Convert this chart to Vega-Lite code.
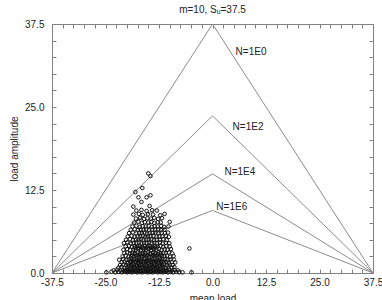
{
  "$schema": "https://vega.github.io/schema/vega-lite/v6.json",
  "width": 321,
  "height": 249,
  "autosize": "none",
  "padding": {"left": 52, "top": 24, "right": 9, "bottom": 27},
  "background": "white",
  "title": {"text": "m=10, Sᵤ=37.5", "fontSize": 10, "fontWeight": "normal", "font": "Liberation Sans", "color": "#222", "offset": 4, "anchor": "middle"},
  "config": {
    "view": {"stroke": "#808080", "strokeWidth": 1},
    "axis": {
      "grid": false, "domain": true, "domainColor": "#808080", "domainWidth": 1,
      "ticks": true, "tickColor": "#808080", "tickWidth": 1, "tickSize": -4,
      "labelFont": "Liberation Sans", "labelFontSize": 10, "labelColor": "#222",
      "labelFlush": false, "labelOverlap": false, "labelBound": false,
      "titleFont": "Liberation Sans", "titleFontSize": 10, "titleFontWeight": "normal", "titleColor": "#222"
    }
  },
  "datasets": {
    "curves": [
      {"life": "1E0", "mean": -37.5, "amp": 0}, {"life": "1E0", "mean": 0, "amp": 37.5}, {"life": "1E0", "mean": 37.5, "amp": 0},
      {"life": "1E2", "mean": -37.5, "amp": 0}, {"life": "1E2", "mean": 0, "amp": 23.66}, {"life": "1E2", "mean": 37.5, "amp": 0},
      {"life": "1E4", "mean": -37.5, "amp": 0}, {"life": "1E4", "mean": 0, "amp": 14.93}, {"life": "1E4", "mean": 37.5, "amp": 0},
      {"life": "1E6", "mean": -37.5, "amp": 0}, {"life": "1E6", "mean": 0, "amp": 9.42}, {"life": "1E6", "mean": 37.5, "amp": 0}
    ],
    "tags": [
      {"label": "N=1E0", "mean": 5.4, "amp": 33.3},
      {"label": "N=1E2", "mean": 4.7, "amp": 22.0},
      {"label": "N=1E4", "mean": 2.8, "amp": 15.2},
      {"label": "N=1E6", "mean": 0.9, "amp": 9.9}
    ],
    "tests": [
      {"m": -24.8, "a": 0.1}, {"m": -23.6, "a": 0.2}, {"m": -22.7, "a": 0.1}, {"m": -21.9, "a": 0.15}, {"m": -21.2, "a": 0.1}, {"m": -20.6, "a": 0.2}, {"m": -20.0, "a": 0.1}, {"m": -19.4, "a": 0.15}, {"m": -18.8, "a": 0.1}, {"m": -18.2, "a": 0.2},
      {"m": -17.6, "a": 0.1}, {"m": -17.0, "a": 0.15}, {"m": -16.4, "a": 0.1}, {"m": -15.8, "a": 0.2}, {"m": -15.2, "a": 0.1}, {"m": -14.6, "a": 0.15}, {"m": -14.0, "a": 0.1}, {"m": -13.4, "a": 0.2}, {"m": -12.8, "a": 0.1}, {"m": -12.2, "a": 0.15},
      {"m": -11.6, "a": 0.1}, {"m": -11.0, "a": 0.2}, {"m": -10.4, "a": 0.1}, {"m": -9.8, "a": 0.15}, {"m": -9.2, "a": 0.1}, {"m": -8.5, "a": 0.2}, {"m": -7.8, "a": 0.1}, {"m": -7.0, "a": 0.1}, {"m": -4.9, "a": 0.1},
      {"m": -23.1, "a": 0.4}, {"m": -22.3, "a": 0.5}, {"m": -21.5, "a": 0.35}, {"m": -20.9, "a": 0.45}, {"m": -20.3, "a": 0.4}, {"m": -19.7, "a": 0.5}, {"m": -19.1, "a": 0.35}, {"m": -18.5, "a": 0.45}, {"m": -17.9, "a": 0.4}, {"m": -17.3, "a": 0.5},
      {"m": -16.7, "a": 0.35}, {"m": -16.1, "a": 0.45}, {"m": -15.5, "a": 0.4}, {"m": -14.9, "a": 0.5}, {"m": -14.3, "a": 0.35}, {"m": -13.7, "a": 0.45}, {"m": -13.1, "a": 0.4}, {"m": -12.5, "a": 0.5}, {"m": -11.9, "a": 0.35}, {"m": -11.3, "a": 0.45},
      {"m": -10.7, "a": 0.4}, {"m": -10.1, "a": 0.5}, {"m": -9.5, "a": 0.35}, {"m": -8.8, "a": 0.45}, {"m": -8.1, "a": 0.4},
      {"m": -22.0, "a": 0.8}, {"m": -21.3, "a": 0.9}, {"m": -20.6, "a": 0.75}, {"m": -19.9, "a": 0.85}, {"m": -19.3, "a": 0.8}, {"m": -18.7, "a": 0.9}, {"m": -18.1, "a": 0.75}, {"m": -17.5, "a": 0.85}, {"m": -16.9, "a": 0.8}, {"m": -16.3, "a": 0.9},
      {"m": -15.7, "a": 0.75}, {"m": -15.1, "a": 0.85}, {"m": -14.5, "a": 0.8}, {"m": -13.9, "a": 0.9}, {"m": -13.3, "a": 0.75}, {"m": -12.7, "a": 0.85}, {"m": -12.1, "a": 0.8}, {"m": -11.5, "a": 0.9}, {"m": -10.9, "a": 0.75}, {"m": -10.3, "a": 0.85},
      {"m": -9.6, "a": 0.8}, {"m": -8.9, "a": 0.9},
      {"m": -21.6, "a": 1.2}, {"m": -20.8, "a": 1.3}, {"m": -20.2, "a": 1.15}, {"m": -19.6, "a": 1.25}, {"m": -19.0, "a": 1.2}, {"m": -18.4, "a": 1.3}, {"m": -17.8, "a": 1.15}, {"m": -17.2, "a": 1.25}, {"m": -16.6, "a": 1.2}, {"m": -16.0, "a": 1.3},
      {"m": -15.4, "a": 1.15}, {"m": -14.8, "a": 1.25}, {"m": -14.2, "a": 1.2}, {"m": -13.6, "a": 1.3}, {"m": -13.0, "a": 1.15}, {"m": -12.4, "a": 1.25}, {"m": -11.8, "a": 1.2}, {"m": -11.2, "a": 1.3}, {"m": -10.6, "a": 1.15}, {"m": -10.0, "a": 1.25},
      {"m": -9.3, "a": 1.2},
      {"m": -21.2, "a": 1.6}, {"m": -20.5, "a": 1.7}, {"m": -19.8, "a": 1.55}, {"m": -19.2, "a": 1.65}, {"m": -18.6, "a": 1.6}, {"m": -18.0, "a": 1.7}, {"m": -17.4, "a": 1.55}, {"m": -16.8, "a": 1.65}, {"m": -16.2, "a": 1.6}, {"m": -15.6, "a": 1.7},
      {"m": -15.0, "a": 1.55}, {"m": -14.4, "a": 1.65}, {"m": -13.8, "a": 1.6}, {"m": -13.2, "a": 1.7}, {"m": -12.6, "a": 1.55}, {"m": -12.0, "a": 1.65}, {"m": -11.4, "a": 1.6}, {"m": -10.8, "a": 1.7}, {"m": -10.2, "a": 1.55}, {"m": -9.5, "a": 1.65},
      {"m": -8.7, "a": 1.6},
      {"m": -21.8, "a": 2.0}, {"m": -20.9, "a": 2.1}, {"m": -20.1, "a": 1.95}, {"m": -19.5, "a": 2.05}, {"m": -18.9, "a": 2.0}, {"m": -18.3, "a": 2.1}, {"m": -17.7, "a": 1.95}, {"m": -17.1, "a": 2.05}, {"m": -16.5, "a": 2.0}, {"m": -15.9, "a": 2.1},
      {"m": -15.3, "a": 1.95}, {"m": -14.7, "a": 2.05}, {"m": -14.1, "a": 2.0}, {"m": -13.5, "a": 2.1}, {"m": -12.9, "a": 1.95}, {"m": -12.3, "a": 2.05}, {"m": -11.7, "a": 2.0}, {"m": -11.1, "a": 2.1}, {"m": -10.5, "a": 1.95}, {"m": -9.8, "a": 2.05},
      {"m": -9.0, "a": 2.0},
      {"m": -21.0, "a": 2.5}, {"m": -20.3, "a": 2.6}, {"m": -19.6, "a": 2.45}, {"m": -19.0, "a": 2.55}, {"m": -18.4, "a": 2.5}, {"m": -17.8, "a": 2.6}, {"m": -17.2, "a": 2.45}, {"m": -16.6, "a": 2.55}, {"m": -16.0, "a": 2.5}, {"m": -15.4, "a": 2.6},
      {"m": -14.8, "a": 2.45}, {"m": -14.2, "a": 2.55}, {"m": -13.6, "a": 2.5}, {"m": -13.0, "a": 2.6}, {"m": -12.4, "a": 2.45}, {"m": -11.8, "a": 2.55}, {"m": -11.2, "a": 2.5}, {"m": -10.6, "a": 2.6}, {"m": -9.9, "a": 2.45}, {"m": -9.1, "a": 2.55},
      {"m": -20.6, "a": 3.0}, {"m": -19.9, "a": 3.1}, {"m": -19.3, "a": 2.95}, {"m": -18.7, "a": 3.05}, {"m": -18.1, "a": 3.0}, {"m": -17.5, "a": 3.1}, {"m": -16.9, "a": 2.95}, {"m": -16.3, "a": 3.05}, {"m": -15.7, "a": 3.0}, {"m": -15.1, "a": 3.1},
      {"m": -14.5, "a": 2.95}, {"m": -13.9, "a": 3.05}, {"m": -13.3, "a": 3.0}, {"m": -12.7, "a": 3.1}, {"m": -12.1, "a": 2.95}, {"m": -11.5, "a": 3.05}, {"m": -10.9, "a": 3.0}, {"m": -10.2, "a": 3.1}, {"m": -9.4, "a": 2.95},
      {"m": -20.8, "a": 3.5}, {"m": -20.0, "a": 3.6}, {"m": -19.2, "a": 3.45}, {"m": -18.5, "a": 3.55}, {"m": -17.9, "a": 3.5}, {"m": -17.3, "a": 3.6}, {"m": -16.7, "a": 3.45}, {"m": -16.1, "a": 3.55}, {"m": -15.5, "a": 3.5}, {"m": -14.9, "a": 3.6},
      {"m": -14.3, "a": 3.45}, {"m": -13.7, "a": 3.55}, {"m": -13.1, "a": 3.5}, {"m": -12.5, "a": 3.6}, {"m": -11.9, "a": 3.45}, {"m": -11.2, "a": 3.55}, {"m": -10.5, "a": 3.5}, {"m": -9.7, "a": 3.6}, {"m": -5.4, "a": 3.7},
      {"m": -20.3, "a": 4.0}, {"m": -19.5, "a": 4.1}, {"m": -18.8, "a": 3.95}, {"m": -18.2, "a": 4.05}, {"m": -17.6, "a": 4.0}, {"m": -17.0, "a": 4.1}, {"m": -16.4, "a": 3.95}, {"m": -15.8, "a": 4.05}, {"m": -15.2, "a": 4.0}, {"m": -14.6, "a": 4.1},
      {"m": -14.0, "a": 3.95}, {"m": -13.4, "a": 4.05}, {"m": -12.8, "a": 4.0}, {"m": -12.2, "a": 4.1}, {"m": -11.5, "a": 3.95}, {"m": -10.8, "a": 4.05}, {"m": -10.0, "a": 4.0},
      {"m": -20.7, "a": 4.5}, {"m": -19.9, "a": 4.6}, {"m": -19.1, "a": 4.45}, {"m": -18.4, "a": 4.55}, {"m": -17.8, "a": 4.5}, {"m": -17.2, "a": 4.6}, {"m": -16.6, "a": 4.45}, {"m": -16.0, "a": 4.55}, {"m": -15.4, "a": 4.5}, {"m": -14.8, "a": 4.6},
      {"m": -14.2, "a": 4.45}, {"m": -13.6, "a": 4.55}, {"m": -13.0, "a": 4.5}, {"m": -12.3, "a": 4.6}, {"m": -11.6, "a": 4.45}, {"m": -10.9, "a": 4.55}, {"m": -10.1, "a": 4.5},
      {"m": -20.2, "a": 5.0}, {"m": -19.3, "a": 5.1}, {"m": -18.6, "a": 4.95}, {"m": -17.9, "a": 5.05}, {"m": -17.3, "a": 5.0}, {"m": -16.7, "a": 5.1}, {"m": -16.1, "a": 4.95}, {"m": -15.5, "a": 5.05}, {"m": -14.9, "a": 5.0}, {"m": -14.3, "a": 5.1},
      {"m": -13.7, "a": 4.95}, {"m": -13.0, "a": 5.05}, {"m": -12.3, "a": 5.0}, {"m": -11.5, "a": 5.1}, {"m": -10.7, "a": 4.95},
      {"m": -19.8, "a": 5.5}, {"m": -18.9, "a": 5.6}, {"m": -18.2, "a": 5.45}, {"m": -17.5, "a": 5.55}, {"m": -16.9, "a": 5.5}, {"m": -16.3, "a": 5.6}, {"m": -15.7, "a": 5.45}, {"m": -15.1, "a": 5.55}, {"m": -14.5, "a": 5.5}, {"m": -13.8, "a": 5.6},
      {"m": -13.1, "a": 5.45}, {"m": -12.4, "a": 5.55}, {"m": -11.7, "a": 5.5}, {"m": -10.9, "a": 5.6}, {"m": -10.2, "a": 5.45},
      {"m": -19.5, "a": 6.0}, {"m": -18.6, "a": 6.1}, {"m": -17.8, "a": 5.95}, {"m": -17.1, "a": 6.05}, {"m": -16.5, "a": 6.0}, {"m": -15.9, "a": 6.1}, {"m": -15.3, "a": 5.95}, {"m": -14.7, "a": 6.05}, {"m": -14.0, "a": 6.0}, {"m": -13.3, "a": 6.1},
      {"m": -12.6, "a": 5.95}, {"m": -11.9, "a": 6.05}, {"m": -11.1, "a": 6.0}, {"m": -10.4, "a": 6.1},
      {"m": -19.1, "a": 6.5}, {"m": -18.2, "a": 6.6}, {"m": -17.4, "a": 6.45}, {"m": -16.8, "a": 6.55}, {"m": -16.1, "a": 6.5}, {"m": -15.5, "a": 6.6}, {"m": -14.8, "a": 6.45}, {"m": -14.1, "a": 6.55}, {"m": -13.4, "a": 6.5}, {"m": -12.7, "a": 6.6},
      {"m": -12.0, "a": 6.45}, {"m": -11.2, "a": 6.55},
      {"m": -18.7, "a": 7.0}, {"m": -17.8, "a": 7.1}, {"m": -17.0, "a": 6.95}, {"m": -16.3, "a": 7.05}, {"m": -15.6, "a": 7.0}, {"m": -14.9, "a": 7.1}, {"m": -14.2, "a": 6.95}, {"m": -13.5, "a": 7.05}, {"m": -12.8, "a": 7.0}, {"m": -12.0, "a": 7.1},
      {"m": -11.3, "a": 6.95}, {"m": -10.3, "a": 7.0},
      {"m": -18.3, "a": 7.6}, {"m": -17.3, "a": 7.7}, {"m": -16.5, "a": 7.55}, {"m": -15.8, "a": 7.65}, {"m": -15.0, "a": 7.6}, {"m": -14.3, "a": 7.7}, {"m": -13.6, "a": 7.55}, {"m": -12.8, "a": 7.65}, {"m": -12.1, "a": 7.6}, {"m": -10.0, "a": 7.7},
      {"m": -17.9, "a": 8.2}, {"m": -16.9, "a": 8.3}, {"m": -16.0, "a": 8.15}, {"m": -15.2, "a": 8.25}, {"m": -14.4, "a": 8.2}, {"m": -13.6, "a": 8.3}, {"m": -12.7, "a": 8.15}, {"m": -11.8, "a": 8.25},
      {"m": -18.5, "a": 8.8}, {"m": -17.2, "a": 8.9}, {"m": -16.3, "a": 8.75}, {"m": -15.1, "a": 8.85}, {"m": -13.9, "a": 8.8}, {"m": -12.2, "a": 8.7}, {"m": -11.2, "a": 8.9},
      {"m": -17.8, "a": 9.4}, {"m": -16.6, "a": 9.5}, {"m": -15.4, "a": 9.35}, {"m": -14.1, "a": 9.45}, {"m": -13.0, "a": 9.4},
      {"m": -18.5, "a": 10.0}, {"m": -16.6, "a": 10.7}, {"m": -14.7, "a": 10.1}, {"m": -17.3, "a": 11.4}, {"m": -15.4, "a": 11.4}, {"m": -14.5, "a": 11.7},
      {"m": -16.4, "a": 12.8}, {"m": -18.0, "a": 12.2}, {"m": -15.0, "a": 15.0}, {"m": -14.5, "a": 14.6},
      {"m": -20.4, "a": 0.25}, {"m": -19.8, "a": 0.3}, {"m": -19.2, "a": 0.25}, {"m": -18.6, "a": 0.3}, {"m": -18.0, "a": 0.25}, {"m": -17.4, "a": 0.3}, {"m": -16.8, "a": 0.25}, {"m": -16.2, "a": 0.3}, {"m": -15.6, "a": 0.25}, {"m": -15.0, "a": 0.3},
      {"m": -14.4, "a": 0.25}, {"m": -13.8, "a": 0.3}, {"m": -13.2, "a": 0.25}, {"m": -12.6, "a": 0.3}, {"m": -12.0, "a": 0.25}, {"m": -11.4, "a": 0.3}, {"m": -10.8, "a": 0.25},
      {"m": -19.6, "a": 1.0}, {"m": -18.9, "a": 1.05}, {"m": -18.3, "a": 0.95}, {"m": -17.7, "a": 1.0}, {"m": -17.1, "a": 1.05}, {"m": -16.5, "a": 0.95}, {"m": -15.9, "a": 1.0}, {"m": -15.3, "a": 1.05}, {"m": -14.7, "a": 0.95}, {"m": -14.1, "a": 1.0},
      {"m": -13.5, "a": 1.05}, {"m": -12.9, "a": 0.95}, {"m": -12.3, "a": 1.0}, {"m": -11.7, "a": 1.05},
      {"m": -19.1, "a": 1.8}, {"m": -18.5, "a": 1.85}, {"m": -17.9, "a": 1.75}, {"m": -17.3, "a": 1.8}, {"m": -16.7, "a": 1.85}, {"m": -16.1, "a": 1.75}, {"m": -15.5, "a": 1.8}, {"m": -14.9, "a": 1.85}, {"m": -14.3, "a": 1.75}, {"m": -13.7, "a": 1.8},
      {"m": -13.1, "a": 1.85}, {"m": -12.5, "a": 1.75}, {"m": -11.9, "a": 1.8},
      {"m": -18.8, "a": 2.75}, {"m": -18.1, "a": 2.8}, {"m": -17.5, "a": 2.7}, {"m": -16.9, "a": 2.75}, {"m": -16.3, "a": 2.8}, {"m": -15.7, "a": 2.7}, {"m": -15.1, "a": 2.75}, {"m": -14.5, "a": 2.8}, {"m": -13.9, "a": 2.7}, {"m": -13.3, "a": 2.75},
      {"m": -12.7, "a": 2.8}, {"m": -12.1, "a": 2.7},
      {"m": -18.1, "a": 3.8}, {"m": -17.4, "a": 3.75}, {"m": -16.8, "a": 3.85}, {"m": -16.2, "a": 3.8}, {"m": -15.6, "a": 3.75}, {"m": -15.0, "a": 3.85}, {"m": -14.4, "a": 3.8}, {"m": -13.8, "a": 3.75}, {"m": -13.2, "a": 3.85}
    ]
  },
  "layer": [
    {
      "data": {"name": "curves"},
      "mark": {"type": "line", "color": "#8c8c8c", "strokeWidth": 1},
      "encoding": {
        "x": {"field": "mean", "type": "quantitative", "scale": {"domain": [-37.5, 37.5], "nice": false, "zero": false},
          "axis": {"title": "mean load", "titlePadding": 6,
            "values": [-37.5, -35, -32.5, -30, -27.5, -25, -22.5, -20, -17.5, -15, -12.5, -10, -7.5, -5, -2.5, 0, 2.5, 5, 7.5, 10, 12.5, 15, 17.5, 20, 22.5, 25, 27.5, 30, 32.5, 35, 37.5],
            "labelPadding": 8,
            "labelExpr": "abs(datum.value % 12.5) < 0.01 ? replace(format(datum.value, '.1f'), '−', '-') : ''"}},
        "y": {"field": "amp", "type": "quantitative", "scale": {"domain": [0, 37.5], "nice": false},
          "axis": {"title": "load amplitude", "titlePadding": 5,
            "values": [0, 2.5, 5, 7.5, 10, 12.5, 15, 17.5, 20, 22.5, 25, 27.5, 30, 32.5, 35, 37.5],
            "labelPadding": 12,
            "labelExpr": "abs(datum.value % 12.5) < 0.01 ? format(datum.value, '.1f') : ''"}},
        "detail": {"field": "life"}
      }
    },
    {
      "data": {"name": "curves"},
      "mark": {"type": "point", "opacity": 0},
      "encoding": {
        "x": {"field": "mean", "type": "quantitative",
          "axis": {"orient": "top", "title": null, "labels": false,
            "values": [-37.5, -35, -32.5, -30, -27.5, -25, -22.5, -20, -17.5, -15, -12.5, -10, -7.5, -5, -2.5, 0, 2.5, 5, 7.5, 10, 12.5, 15, 17.5, 20, 22.5, 25, 27.5, 30, 32.5, 35, 37.5]}},
        "y": {"field": "amp", "type": "quantitative",
          "axis": {"orient": "right", "title": null, "labels": false,
            "values": [0, 2.5, 5, 7.5, 10, 12.5, 15, 17.5, 20, 22.5, 25, 27.5, 30, 32.5, 35, 37.5]}}
      }
    },
    {
      "data": {"name": "tests"},
      "mark": {"type": "point", "shape": "circle", "size": 13, "filled": false, "stroke": "#111", "strokeWidth": 1, "opacity": 1},
      "encoding": {
        "x": {"field": "m", "type": "quantitative", "axis": null},
        "y": {"field": "a", "type": "quantitative", "axis": null}
      }
    },
    {
      "data": {"name": "tags"},
      "mark": {"type": "text", "align": "left", "baseline": "middle", "font": "Liberation Sans", "fontSize": 10, "color": "#222"},
      "encoding": {
        "x": {"field": "mean", "type": "quantitative", "axis": null},
        "y": {"field": "amp", "type": "quantitative", "axis": null},
        "text": {"field": "label"}
      }
    }
  ],
  "resolve": {"axis": {"x": "independent", "y": "independent"}}
}
